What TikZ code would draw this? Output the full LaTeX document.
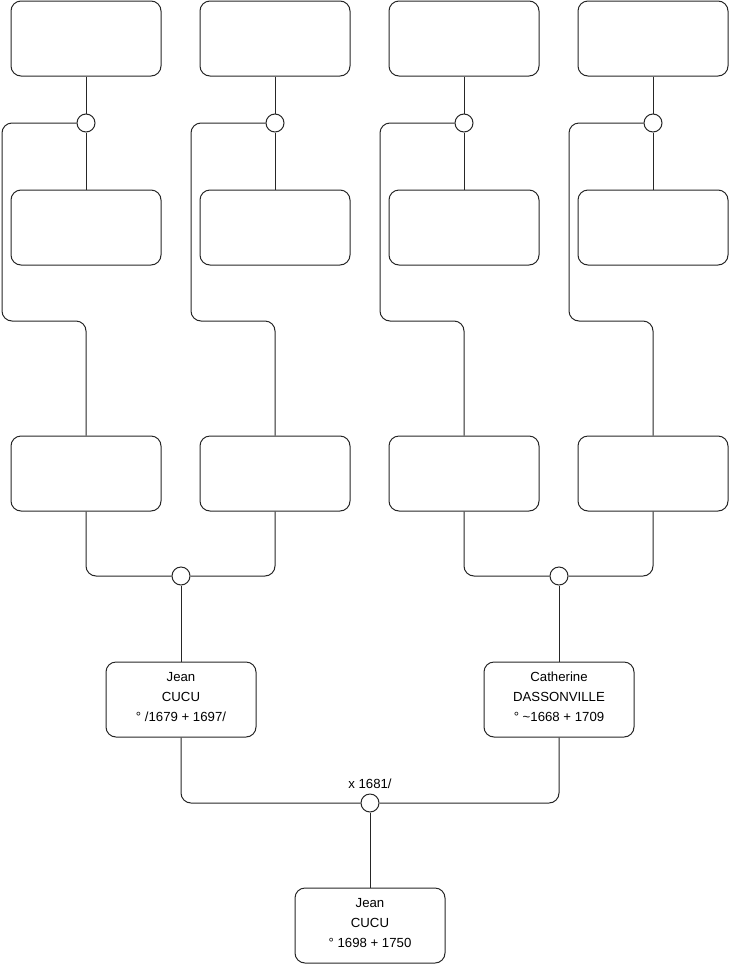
\documentclass[tikz,border=0pt]{standalone}
\usepackage{fontspec}
\setmainfont{Liberation Sans}
\newcommand{\lowpad}{\rule[-5pt]{0pt}{5pt}}
\begin{document}
\begin{tikzpicture}[x=1pt,y=-1pt,
  person/.style={draw=black!85,line width=1pt,rounded corners=10pt,minimum width=150pt,minimum height=75pt,inner sep=0pt,align=center,font=\fontsize{13.2}{20}\selectfont},
  union/.style={draw=black!85,line width=1pt,circle,minimum size=18pt,inner sep=0pt,fill=white},
  link/.style={draw=black!85,line width=1pt,rounded corners=10pt}]
\useasboundingbox (0,0) rectangle (740,975);
% top row
\node[person] (t1) at (86,38.5) {};
\node[person] (t2) at (275,38.5) {};
\node[person] (t3) at (464,38.5) {};
\node[person] (t4) at (653,38.5) {};
% second row
\node[person] (s1) at (86,227.5) {};
\node[person] (s2) at (275,227.5) {};
\node[person] (s3) at (464,227.5) {};
\node[person] (s4) at (653,227.5) {};
% third row
\node[person] (b1) at (86,473.5) {};
\node[person] (b2) at (275,473.5) {};
\node[person] (b3) at (464,473.5) {};
\node[person] (b4) at (653,473.5) {};
% top unions
\node[union] (c1) at (86,123) {};
\node[union] (c2) at (275,123) {};
\node[union] (c3) at (464,123) {};
\node[union] (c4) at (653,123) {};
\coordinate (k1) at (2,321);
\coordinate (k2) at (191,321);
\coordinate (k3) at (380,321);
\coordinate (k4) at (569,321);
% middle unions
\node[union] (p1) at (181,576) {};
\node[union] (p2) at (559,576) {};
% parents
\node[person] (jean) at (181,699.5) {Jean\\CUCU\\° /1679 + 1697/\lowpad};
\node[person] (cath) at (559,699.5) {Catherine\\DASSONVILLE\\° \textasciitilde1668 + 1709\lowpad};
\node[union] (m) at (370,803) {};
\node[font=\fontsize{13.2}{14}\selectfont] (mlabel) at (370,784) {x 1681/};
\node[person] (child) at (370,925.5) {Jean\\CUCU\\° 1698 + 1750\lowpad};
% connectors
\foreach \i in {1,2,3,4}{
  \draw[link] (t\i) -- (c\i);
  \draw[link] (c\i) -- (s\i);
  \draw[link] (c\i.west) -| (k\i) -| (b\i.north);
}
\draw[link] (b1.south) |- (p1.west);
\draw[link] (b2.south) |- (p1.east);
\draw[link] (b3.south) |- (p2.west);
\draw[link] (b4.south) |- (p2.east);
\draw[link] (p1) -- (jean);
\draw[link] (p2) -- (cath);
\draw[link] (jean.south) |- (m.west);
\draw[link] (cath.south) |- (m.east);
\draw[link] (m) -- (child);
\end{tikzpicture}
\end{document}
